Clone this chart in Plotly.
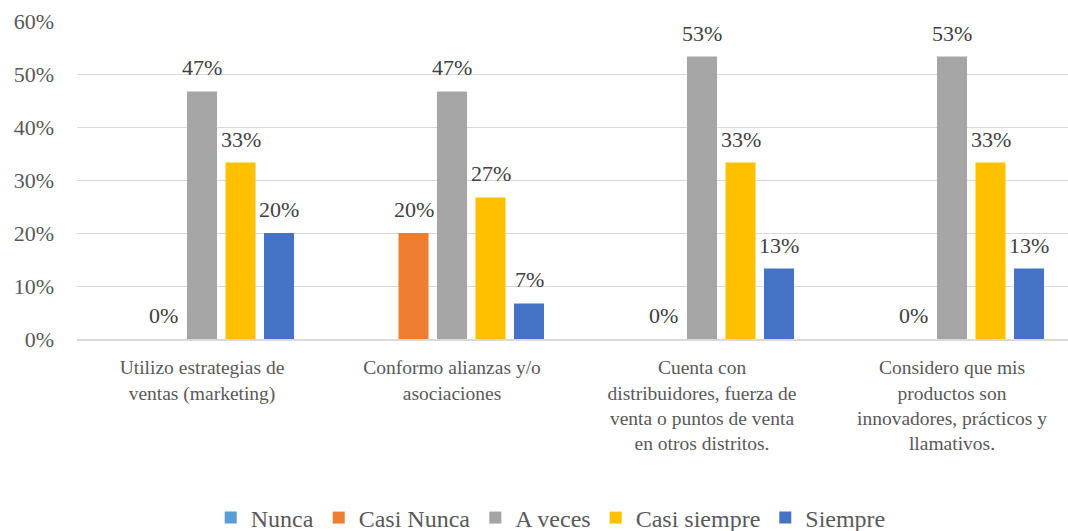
import plotly.graph_objects as go

categories = [
    "Utilizo estrategias de<br>ventas (marketing)",
    "Conformo alianzas y/o<br>asociaciones",
    "Cuenta con<br>distribuidores, fuerza de<br>venta o puntos de venta<br>en otros distritos.",
    "Considero que mis<br>productos son<br>innovadores, prácticos y<br>llamativos.",
]
series_names = ["Nunca", "Casi Nunca", "A veces", "Casi siempre", "Siempre"]
nunca = [None, None, None, None]
casi_nunca = [0.0, 0.20, 0.0, 0.0]
a_veces = [0.467, 0.467, 0.533, 0.533]
casi_siempre = [0.333, 0.267, 0.333, 0.333]
siempre = [0.20, 0.067, 0.133, 0.133]
colors = ["#5B9BD5", "#ED7D31", "#A5A5A5", "#FFC000", "#4472C4"]

all_values = [nunca, casi_nunca, a_veces, casi_siempre, siempre]

FONT = "Liberation Serif"
BARGAP = 0.23
n_series = len(series_names)

fig = go.Figure()
for name, vals, col in zip(series_names, all_values, colors):
    fig.add_trace(go.Bar(x=list(range(len(categories))), y=vals, name=name,
                         marker=dict(color=col, line=dict(width=0))))

annotations = []
slot = (1 - BARGAP) / n_series
for i, vals in enumerate(all_values):
    for j, v in enumerate(vals):
        if v is None:
            continue
        annotations.append(dict(
            x=j + (i - (n_series - 1) / 2) * slot, y=v, xref="x", yref="y",
            text=f"{round(v * 100)}%", showarrow=False, yanchor="bottom",
            yshift=9, font=dict(family=FONT, size=22, color="#404040")))

fig.update_layout(
    width=1068, height=531,
    margin=dict(l=77, r=0, t=21, b=192, autoexpand=False),
    paper_bgcolor="white", plot_bgcolor="white",
    barmode="group", bargap=BARGAP, bargroupgap=0.22,
    font=dict(family=FONT, size=20, color="#595959"),
    annotations=annotations,
    legend=dict(orientation="h", yref="container", y=0.0245, yanchor="middle",
                x=0.478, xanchor="center", font=dict(family=FONT, size=24, color="#595959"),
                itemwidth=30, tracegroupgap=0),
)
fig.update_xaxes(tickmode="array", tickvals=list(range(len(categories))), ticktext=categories,
                 range=[-0.5, 3.464], showgrid=False, showline=True, linecolor="#D9D9D9",
                 linewidth=1.5, ticks="outside", ticklen=10, tickcolor="rgba(0,0,0,0)",
                 automargin=False,
                 tickfont=dict(family=FONT, size=19.5, color="#595959"))
fig.update_yaxes(range=[0, 0.6], dtick=0.1, tickformat=".0%", showgrid=True,
                 gridcolor="#D9D9D9", gridwidth=1.2, zeroline=False, showline=False,
                 ticklabelstandoff=22, automargin=False,
                 tickfont=dict(family=FONT, size=22, color="#595959"))

fig.write_html("out.html", config={"displayModeBar": False},
               post_script="document.body.style.margin='0';")
